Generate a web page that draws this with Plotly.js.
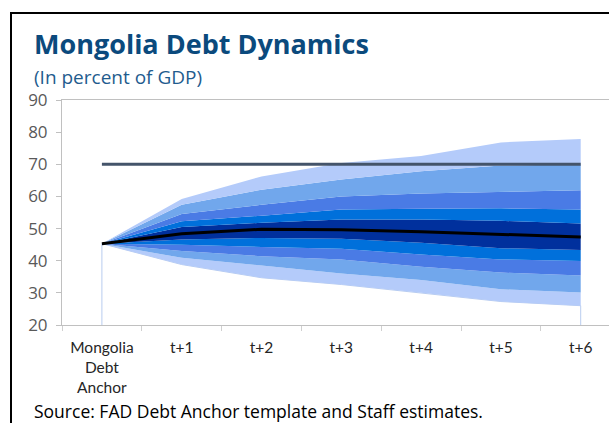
<!DOCTYPE html>
<html>
<head>
<meta charset="utf-8">
<script src="https://cdn.plot.ly/plotly-3.0.1.min.js"></script>
<style>
  html, body { margin: 0; padding: 0; background: #fff; overflow: hidden; }
  #wrap { position: relative; width: 609px; height: 423px; overflow: hidden; }
  #chart { position: absolute; left: 0; top: 0; width: 609px; height: 423px; }
  #frame { position: absolute; left: 10px; top: 12px; width: 700px; height: 500px;
           border: 2px solid #000; pointer-events: none; box-sizing: border-box; }
</style>
</head>
<body>
<div id="wrap">
  <div id="chart"></div>
  <div id="frame"></div>
</div>
<script>
// ---- data ----
const categories = ["Mongolia<br>Debt<br>Anchor", "t+1", "t+2", "t+3", "t+4", "t+5", "t+6"];
const p95    = [45.3, 59.2, 66.2, 70.4, 72.6, 76.8, 77.9];
const p90    = [45.3, 57.4, 62.1, 65.3, 67.8, 69.6, 70.0];
const p80    = [45.3, 54.5, 57.4, 60.0, 60.9, 61.5, 61.9];
const p70    = [45.3, 52.3, 54.0, 55.9, 56.2, 56.3, 55.9];
const p60    = [45.3, 50.5, 51.8, 52.8, 52.8, 52.4, 51.6];
const median = [45.3, 48.4, 49.8, 49.6, 49.0, 48.2, 47.4];
const p40    = [45.3, 46.6, 47.1, 46.8, 45.6, 43.9, 43.3];
const p30    = [45.3, 45.0, 44.3, 43.7, 41.9, 40.4, 39.9];
const p20    = [45.3, 43.0, 41.4, 40.4, 38.1, 36.3, 35.4];
const p10    = [45.3, 40.9, 38.5, 36.0, 34.0, 31.1, 30.1];
const p5     = [45.3, 38.8, 34.7, 32.6, 30.0, 27.3, 26.0];
const debtAnchor = [70, 70, 70, 70, 70, 70, 70];
const yTicks = [20, 30, 40, 50, 60, 70, 80, 90];

// ---- styles ----
const cLightest = "#b4cbfa";
const cLight    = "#71a7ec";
const cMedium   = "#4a7be5";
const cBright   = "#0070db";
const cDark     = "#00309d";

const traces = [];
const yMin = yTicks[0], yMax = yTicks[yTicks.length - 1];

// outline of the base area (vertical edges down to the axis)
traces.push({
  x: [categories[0]].concat(categories, [categories[categories.length - 1]]),
  y: [yMin].concat(p5, [yMin]),
  mode: "lines", line: { color: "#b9cdef", width: 1 }, hoverinfo: "skip", showlegend: false
});

function band(lo, hi, color) {
  traces.push({ x: categories, y: lo, mode: "lines", line: { width: 0 }, hoverinfo: "skip", showlegend: false });
  traces.push({ x: categories, y: hi, mode: "lines", line: { width: 0 }, fill: "tonexty",
                fillcolor: color, hoverinfo: "skip", showlegend: false });
}
band(p5, p10, cLightest);
band(p10, p20, cLight);
band(p20, p30, cMedium);
band(p30, p40, cBright);
band(p40, p60, cDark);
band(p60, p70, cBright);
band(p70, p80, cMedium);
band(p80, p90, cLight);
band(p90, p95, cLightest);

traces.push({ x: categories, y: debtAnchor, mode: "lines", line: { color: "#44546a", width: 3 },
              hoverinfo: "skip", showlegend: false });
traces.push({ x: categories, y: median, mode: "lines", line: { color: "#000000", width: 3 },
              hoverinfo: "skip", showlegend: false });

// plot area: x 62..609 (category step ~79.8 px), y 100..325
const plotW = 547, step = 79.8;
const layout = {
  width: 609, height: 423,
  margin: { l: 62, r: 0, t: 100, b: 98, pad: 0 },
  paper_bgcolor: "#ffffff", plot_bgcolor: "#ffffff",
  font: { family: "Open Sans, sans-serif", color: "#262626" },
  xaxis: {
    type: "category", categoryorder: "array", categoryarray: categories,
    range: [-0.5, plotW / step - 0.5],
    showline: true, mirror: true, linecolor: "#c0c0c0", linewidth: 1,
    ticks: "outside", tickson: "boundaries", ticklen: 5, tickcolor: "#d0d0d0",
    ticklabelstandoff: 8,
    showgrid: false, zeroline: false, fixedrange: true,
    tickfont: { family: "Lato, sans-serif", size: 15.5, color: "#262626" }
  },
  yaxis: {
    range: [yMin, yMax], tickvals: yTicks, ticktext: yTicks.map(String),
    showline: true, linecolor: "#c0c0c0", linewidth: 1,
    ticks: "outside", ticklen: 5, tickcolor: "#c0c0c0",
    ticklabelstandoff: 5,
    showgrid: false, zeroline: false, fixedrange: true,
    tickfont: { family: "Open Sans, sans-serif", size: 17, color: "#595959" }
  },
  annotations: [
    { text: "<b>Mongolia Debt Dynamics</b>", xref: "paper", yref: "paper",
      x: -30 / 547, y: (325 - 44) / 225, xanchor: "left", yanchor: "middle", showarrow: false,
      font: { family: "Open Sans, sans-serif", size: 27, color: "#0b4a7d" } },
    { text: "(In percent of GDP)", xref: "paper", yref: "paper",
      x: -30 / 547, y: (325 - 77) / 225, xanchor: "left", yanchor: "middle", showarrow: false,
      font: { family: "Open Sans, sans-serif", size: 19, color: "#1f5c8e" } },
    { text: "Source: FAD Debt Anchor template and Staff estimates.", xref: "paper", yref: "paper",
      x: -30 / 547, y: (325 - 411) / 225, xanchor: "left", yanchor: "middle", showarrow: false,
      font: { family: "Open Sans, sans-serif", size: 17.5, color: "#000000" } }
  ],
  showlegend: false
};

Plotly.newPlot("chart", traces, layout, { displayModeBar: false, staticPlot: true });
</script>
</body>
</html>
